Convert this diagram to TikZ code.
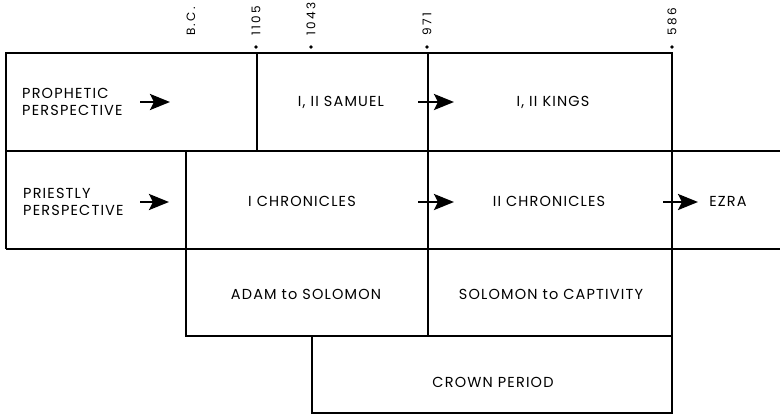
\documentclass[tikz,border=0pt]{standalone}
\usepackage{fontspec}
\setmainfont{Poppins}
\usetikzlibrary{arrows.meta}

\tikzset{
  frame/.style={line width=1.6pt},
  booktext/.style={font=\fontsize{14.5}{17}\selectfont\addfontfeature{LetterSpace=8}, inner sep=0pt},
  yearmark/.style={font=\fontsize{12}{12}\selectfont\addfontfeature{LetterSpace=20}, inner sep=0pt, rotate=90, anchor=west},
  flow/.style={line width=2.6pt, -{Stealth[length=20pt, width=16pt, inset=4pt]}},
}

\begin{document}
\begin{tikzpicture}[x=1pt,y=-1pt]
    \useasboundingbox (0,0) rectangle (780,416);

    % time line
    \node[yearmark] (bc) at (191,36) {B.C.};
    \node[yearmark] (y1105) at (256,36) {1105};
    \node[yearmark] (y1043) at (311,36) {1043};
    \node[yearmark] (y971) at (427,36) {971};
    \node[yearmark] (y586) at (672,36) {586};
    \fill (256,47) circle (1.8);
    \fill (311,47) circle (1.8);
    \fill (427,47) circle (1.8);
    \fill (672,47) circle (1.8);

    % prophetic row
    \draw[frame] (6,53) rectangle (672,151);
    \draw[frame] (257,53) -- (257,151);
    \draw[frame] (428,53) -- (428,151);

    % priestly row
    \draw[frame] (6,151) -- (780,151);
    \draw[frame] (6,249) -- (780,249);
    \draw[frame] (6,151) -- (6,249);
    \draw[frame] (186,151) -- (186,249);
    \draw[frame] (428,151) -- (428,249);
    \draw[frame] (672,151) -- (672,249);

    % periods
    \draw[frame] (186,249) rectangle (672,336);
    \draw[frame] (428,249) -- (428,336);
    \draw[frame] (312,336) rectangle (672,413);

    \node[booktext, align=left, anchor=west] (prophetic) at (22,102) {PROPHETIC\\PERSPECTIVE};
    \node[booktext, align=left, anchor=west] (priestly) at (23,202) {PRIESTLY\\PERSPECTIVE};
    \node[booktext] (samuel) at (341,102) {I, II SAMUEL};
    \node[booktext] (kings) at (553,102) {I, II KINGS};
    \node[booktext] (chron1) at (302,201) {I CHRONICLES};
    \node[booktext] (chron2) at (549,201) {II CHRONICLES};
    \node[booktext] (ezra) at (728,201) {EZRA};
    \node[booktext] (adam) at (306,294) {ADAM to SOLOMON};
    \node[booktext] (solomon) at (551,294) {SOLOMON to CAPTIVITY};
    \node[booktext] (crown) at (493,382) {CROWN PERIOD};

    \coordinate (pfrom) at (140,102);
    \coordinate (pto) at (170,102);
    \coordinate (qfrom) at (140,202);
    \coordinate (qto) at (169,202);
    \coordinate (kfrom) at (418,102);
    \coordinate (kto) at (454,102);
    \coordinate (cfrom) at (418,202);
    \coordinate (cto) at (454,202);
    \coordinate (efrom) at (663,202);
    \coordinate (eto) at (698,202);

    \draw[flow] (pfrom) -- (pto);
    \draw[flow] (qfrom) -- (qto);
    \draw[flow] (kfrom) -- (kto);
    \draw[flow] (cfrom) -- (cto);
    \draw[flow] (efrom) -- (eto);
\end{tikzpicture}
\end{document}
